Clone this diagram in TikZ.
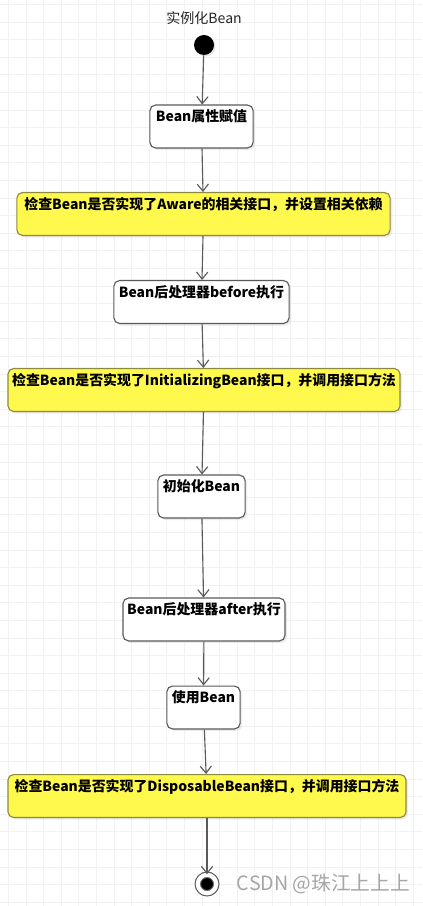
\documentclass[tikz,border=0pt]{standalone}
\usepackage{fontspec}
\setmainfont{Noto Sans CJK SC}
\usepackage{xcolor}
\usetikzlibrary{arrows.meta,shadows}

\definecolor{linegray}{HTML}{5A5A5A}
\definecolor{umlyellow}{HTML}{FFF94E}
\definecolor{yellowline}{HTML}{8C8A3E}
\definecolor{gridgray}{HTML}{F2F2F2}

\begin{document}
\begin{tikzpicture}[x=0.025cm, y=-0.025cm,
  state/.style={draw=linegray, line width=0.8pt, rounded corners=4pt, fill=white,
                font=\fontsize{9.9}{12}\selectfont\bfseries, text height=9pt,
                text depth=15.5pt, inner ysep=3pt, inner xsep=2pt,
                drop shadow={opacity=0.15, shadow xshift=1.5pt, shadow yshift=-1.5pt}},
  check/.style={state, fill=umlyellow, draw=yellowline},
  arr/.style={-{Straight Barb[length=5pt,width=8pt]}, draw=linegray, line width=0.8pt},
  gridline/.style={draw=gridgray, line width=0.7pt}
]
\useasboundingbox (0,0) rectangle (422,906);
\fill[white] (0,0) rectangle (422,906);

%% --- background grid ---
\begin{scope}
  \clip (0,0) rectangle (422,906);
  \draw[gridline, step=0.44cm, shift={(8.4,4.4)}] (-8.4,901.6) grid (413.6,-4.4);
\end{scope}

%% --- start ---
\node[font=\fontsize{10}{12}\selectfont, text=black!85] (startlbl) at (204,18) {实例化Bean};
\node[circle, fill=black, minimum size=0.5cm, inner sep=0pt,
      drop shadow={opacity=0.2, shadow xshift=1pt, shadow yshift=-1pt}] (start) at (204,45) {};

%% --- life cycle steps ---
\node[state, minimum width=2.58cm] (attr)   at (201.5,126.5) {Bean属性赋值};
\node[check, minimum width=9.33cm] (aware)  at (203.5,214)   {检查Bean是否实现了Aware的相关接口，并设置相关依赖};
\node[state, minimum width=4.38cm] (before) at (201.5,302)   {Bean后处理器before执行};
\node[check, minimum width=9.8cm]  (initz)  at (204,390)     {检查Bean是否实现了InitializingBean接口，并调用接口方法};
\node[state, minimum width=2.18cm] (initb)  at (201.5,496.5) {初始化Bean};
\node[state, minimum width=4.05cm] (after)  at (204,619.5)   {Bean后处理器after执行};
\node[state, minimum width=1.83cm] (usebean) at (203.5,707.5) {使用Bean};
\node[check, minimum width=9.95cm] (disp)   at (207,796)     {检查Bean是否实现了DisposableBean接口，并调用接口方法};

%% --- end ---
\node[circle, fill=black, draw=linegray, double=white, double distance=3pt,
      line width=0.8pt, minimum size=0.46cm, inner sep=0pt,
      drop shadow={opacity=0.15, shadow xshift=1pt, shadow yshift=-1pt}] (final) at (207,884) {};

%% --- flow ---
\draw[arr] (start)   -- (attr);
\draw[arr] (attr)    -- (aware);
\draw[arr] (aware)   -- (before);
\draw[arr] (before)  -- (initz);
\draw[arr] (initz)   -- (initb);
\draw[arr] (initb)   -- (after);
\draw[arr] (after)   -- (usebean);
\draw[arr] (usebean) -- (disp);
\draw[arr] (disp)    -- (final);

%% --- watermark ---
\node[anchor=west, font=\fontsize{14}{16}\selectfont, text=gray!70] (mark) at (232,884) {CSDN @珠江上上上};
\end{tikzpicture}
\end{document}
